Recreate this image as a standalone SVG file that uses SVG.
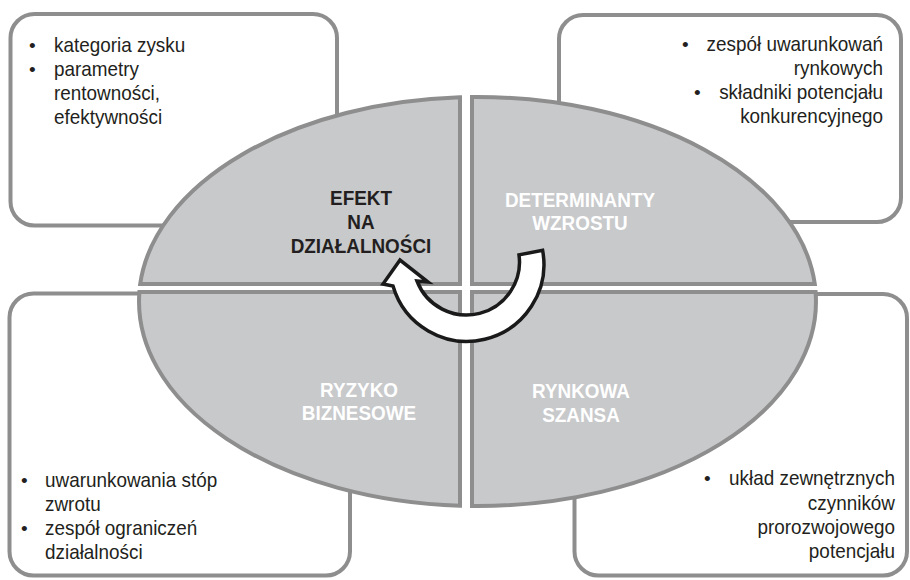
<svg xmlns="http://www.w3.org/2000/svg" width="910" height="580" viewBox="0 0 910 580">
<style>
.box{fill:#fff;stroke:#8e8e8e;stroke-width:4}
.q{fill:#c8c9cb;stroke:#8e8e8e;stroke-width:4}
.t{font-family:"Liberation Sans",Arial,sans-serif;font-size:21px;fill:#231f20}
.b{font-family:"Liberation Sans",Arial,sans-serif;font-size:19px;fill:#231f20}
.r{text-anchor:end}
.lb{font-family:"Liberation Sans",Arial,sans-serif;font-size:21px;font-weight:bold;text-anchor:middle}
.dk{fill:#231f20}
.wh{fill:#fff}
</style>
<rect width="910" height="580" fill="#fff"/>
<g id="box-tl">
<rect class="box" x="10.5" y="14" width="326.5" height="211.5" rx="24"/>
<text class="b" x="29" y="52">•</text><text class="t" transform="matrix(0.9 0 0 1 54 52)">kategoria zysku</text>
<text class="b" x="29" y="76">•</text><text class="t" transform="matrix(0.9 0 0 1 54 76)">parametry</text>
<text class="t" transform="matrix(0.9 0 0 1 54 100)">rentowności,</text>
<text class="t" transform="matrix(0.9 0 0 1 54 124)">efektywności</text>
</g>
<g id="box-tr">
<rect class="box" x="559" y="15" width="342" height="207" rx="24"/>
<text class="b" x="682" y="51">•</text><text class="t r" transform="matrix(0.9 0 0 1 883 51)">zespół uwarunkowań</text>
<text class="t r" transform="matrix(0.9 0 0 1 883 75)">rynkowych</text>
<text class="b" x="694" y="99">•</text><text class="t r" transform="matrix(0.9 0 0 1 883 99)">składniki potencjału</text>
<text class="t r" transform="matrix(0.9 0 0 1 883 123)">konkurencyjnego</text>
</g>
<g id="box-bl">
<rect class="box" x="9.5" y="293.5" width="340.5" height="282" rx="24"/>
<text class="b" x="21" y="487">•</text><text class="t" transform="matrix(0.9 0 0 1 45 487)">uwarunkowania stóp</text>
<text class="t" transform="matrix(0.9 0 0 1 45 511)">zwrotu</text>
<text class="b" x="21" y="535">•</text><text class="t" transform="matrix(0.9 0 0 1 45 535)">zespół ograniczeń</text>
<text class="t" transform="matrix(0.9 0 0 1 45 559)">działalności</text>
</g>
<g id="box-br">
<rect class="box" x="574.5" y="294" width="332.5" height="281.5" rx="24"/>
<text class="b" x="704" y="485">•</text><text class="t r" transform="matrix(0.9 0 0 1 895 485)">układ zewnętrznych</text>
<text class="t r" transform="matrix(0.9 0 0 1 895 510)">czynników</text>
<text class="t r" transform="matrix(0.9 0 0 1 895 534)">prorozwojowego</text>
<text class="t r" transform="matrix(0.9 0 0 1 895 558)">potencjału</text>
</g>
<g id="q-efekt">
<path class="q" d="M460,284 L460,97.3 A338.5 204.5 0 0 0 140.2,284 Z"/>
<text class="lb dk" transform="matrix(0.9 0 0 1 361 205)">EFEKT</text>
<text class="lb dk" transform="matrix(0.9 0 0 1 361 229)">NA</text>
<text class="lb dk" transform="matrix(0.9 0 0 1 361 253)">DZIAŁALNOŚCI</text>
</g>
<g id="q-determinanty">
<path class="q" d="M472,284 L472,97 A338.5 204.5 0 0 1 814.8,284 Z"/>
<text class="lb wh" transform="matrix(0.9 0 0 1 580 207)">DETERMINANTY</text>
<text class="lb wh" transform="matrix(0.9 0 0 1 580 230)">WZROSTU</text>
</g>
<g id="q-ryzyko">
<path class="q" d="M460,292 L139.4,292 A338.5 204.5 0 0 0 460,505.7 Z"/>
<text class="lb wh" transform="matrix(0.9 0 0 1 359 397)">RYZYKO</text>
<text class="lb wh" transform="matrix(0.9 0 0 1 359 420)">BIZNESOWE</text>
</g>
<g id="q-rynkowa">
<path class="q" d="M472,292 L472,506 A338.5 204.5 0 0 0 815.6,292 Z"/>
<text class="lb wh" transform="matrix(0.9 0 0 1 581 398)">RYNKOWA</text>
<text class="lb wh" transform="matrix(0.9 0 0 1 581 422)">SZANSA</text>
</g>
<g id="connectors">
<path d="M542.6,250.3 A77 77 0 0 1 393,286 L383,284 L400,260 L428,282 L417,281 A53 53 0 0 0 519,254.9 Z" fill="#fff" stroke="#1a1a1a" stroke-width="3.5" stroke-linejoin="miter"/>
</g>
</svg>
